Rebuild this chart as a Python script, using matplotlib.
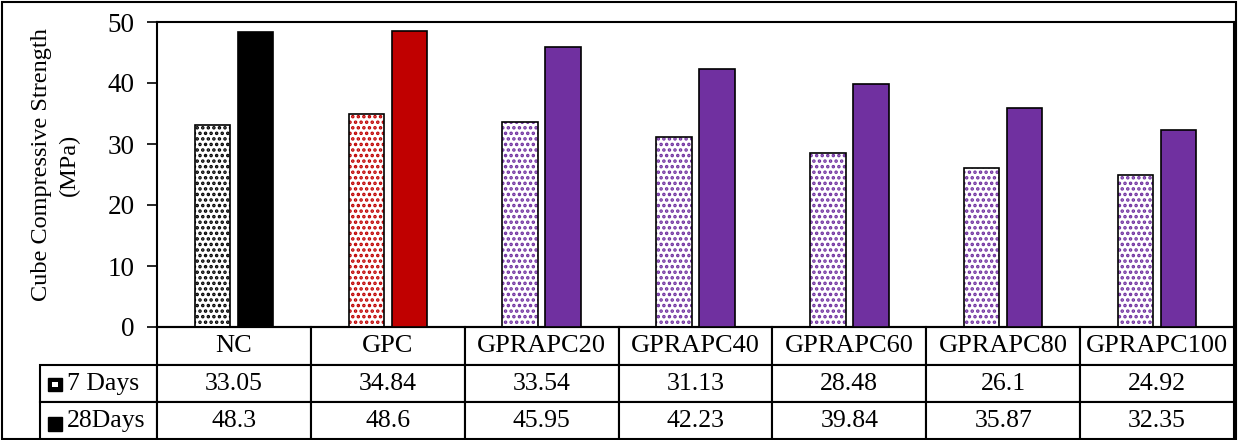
import matplotlib
matplotlib.use("Agg")
import matplotlib.pyplot as plt
from matplotlib.patches import Rectangle
import numpy as np

plt.rcParams['font.family'] = ['Liberation Serif', 'DejaVu Serif']
plt.rcParams['hatch.linewidth'] = 1.7

categories = ["NC", "GPC", "GPRAPC20", "GPRAPC40", "GPRAPC60", "GPRAPC80", "GPRAPC100"]
days7 = [33.05, 34.84, 33.54, 31.13, 28.48, 26.1, 24.92]
days28 = [48.3, 48.6, 45.95, 42.23, 39.84, 35.87, 32.35]
series_labels = ["7 Days", "28Days"]
yticks = [0, 10, 20, 30, 40, 50]

colors = ["#000000", "#C00000", "#7030A0", "#7030A0", "#7030A0", "#7030A0", "#7030A0"]

W, H = 1238, 440
fig = plt.figure(figsize=(W / 100, H / 100), dpi=100)

# outer frame
fig.add_artist(Rectangle((2 / W, 1 / H), (W - 4) / W, (H - 3) / H,
                         transform=fig.transFigure, fill=False,
                         edgecolor="black", linewidth=1.5))

left, right, top, bottom = 157, 1234, 22, 327
ax = fig.add_axes([left / W, 1 - bottom / H, (right - left) / W, (bottom - top) / H])
ax_h = bottom - top
ax_w = right - left

x = np.arange(len(categories))
bw = 0.23
off = 0.14

# 7-day bars: patterned fill, then black outline
ax.bar(x - off, days7, bw, facecolor="white", edgecolor=colors, linewidth=0,
       hatch="...", zorder=2)
ax.bar(x - off, days7, bw, facecolor="none", edgecolor="black", linewidth=1.2, zorder=3)
# 28-day bars: solid fill
ax.bar(x + off, days28, bw, color=colors, edgecolor="black", linewidth=1.2, zorder=3)

ax.set_xlim(-0.5, len(categories) - 0.5)
ax.set_ylim(0, 50)
ax.set_yticks(yticks)
ax.set_xticks([])
ax.tick_params(axis="y", direction="out", length=7, width=1.2, labelsize=19.5, pad=9)
for s in ax.spines.values():
    s.set_linewidth(1.5)
ax.set_ylabel("Cube Compressive Strength\n(MPa)", fontsize=17.5, linespacing=1.45)
ax.yaxis.set_label_coords((80 - left) / ax_w, (bottom - 165) / ax_h)

# data table under the axes
tab_left = 40
bbox = [0, -(440 - bottom) / ax_h, 1, (440 - bottom) / ax_h]
cell_text = [[f"{v:g}" for v in days7], [f"{v:g}" for v in days28]]
tbl = ax.table(cellText=cell_text, colLabels=categories,
               rowLabels=series_labels,
               colWidths=[1.0 / len(categories)] * len(categories),
               cellLoc="center", rowLoc="left", bbox=bbox)
tbl._autoColumns = []
tbl.auto_set_font_size(False)
tbl.set_fontsize(18.5)
for (r, c), cell in tbl.get_celld().items():
    cell.set_linewidth(1.5)
    if r == 0:
        cell.get_text().set_fontsize(19)
    if c == -1:
        cell.set_width((left - tab_left) / ax_w)
        cell.PAD = 27 / (left - tab_left)

# legend keys inside the row labels
fig.add_artist(Rectangle((48 / W, 1 - 391 / H), 14 / W, 13 / H, transform=fig.transFigure,
                         facecolor="black", edgecolor="black", linewidth=1.0))
fig.add_artist(Rectangle((52 / W, 1 - 387 / H), 6 / W, 5 / H, transform=fig.transFigure,
                         facecolor="white", edgecolor="none"))
fig.add_artist(Rectangle((48 / W, 1 - 431 / H), 14 / W, 14 / H, transform=fig.transFigure,
                         facecolor="black", edgecolor="black", linewidth=1.0))

fig.savefig("out.png", dpi=100)
